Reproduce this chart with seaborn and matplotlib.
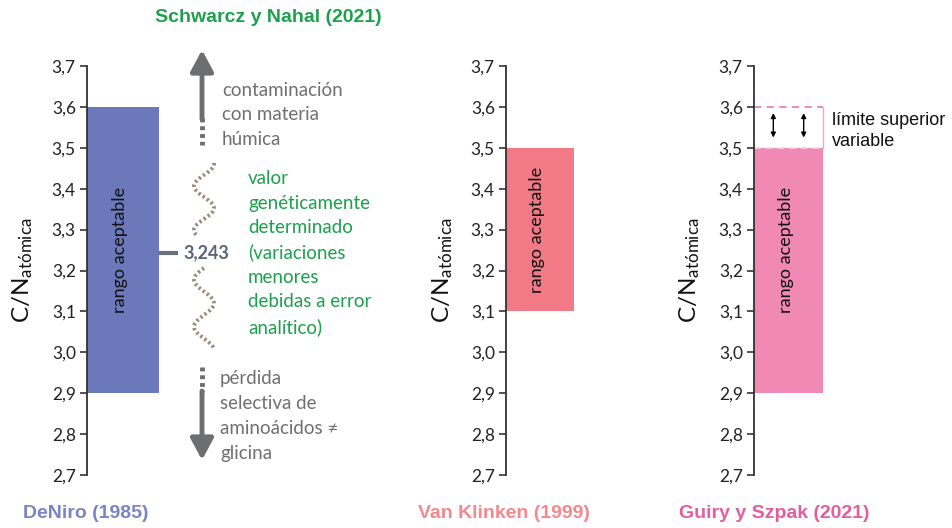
import numpy as np
import matplotlib
matplotlib.use("Agg")
import matplotlib.pyplot as plt
import seaborn as sns

# ---------------- data ----------------
refs = ["DeNiro (1985)", "Van Klinken (1999)", "Guiry y Szpak (2021)"]
lower = [2.9, 3.1, 2.9]
upper = [3.6, 3.5, 3.5]
upper_variable = 3.6          # Guiry & Szpak variable upper limit
genetic_value = 3.243         # Schwarcz & Nahal
yticks = [2.7, 2.8, 2.9, 3.0, 3.1, 3.2, 3.3, 3.4, 3.5, 3.6, 3.7]
ytick_labels = ["2,7", "2,8", "2,9", "3,0", "3,1", "3,2", "3,3", "3,4", "3,5", "3,6", "3,7"]
bar_label = "rango aceptable"
genetic_label = "3,243"

bar_colors = ["#6b78ba", "#f27a86", "#f08ab5"]
title_colors = ["#7b84c6", "#f4888d", "#e35d9f"]
green = "#1ba14b"
gray_txt = "#6f6f6f"
arrow_gray = "#6d6e70"

sns.set_style("white")
plt.rcParams["font.family"] = ["Lato", "DejaVu Sans"]
plt.rcParams["mathtext.fontset"] = "custom"
plt.rcParams["mathtext.rm"] = "Lato"
plt.rcParams["mathtext.it"] = "Lato:italic"
plt.rcParams["mathtext.bf"] = "Lato:bold"

W, H = 952, 528
fig = plt.figure(figsize=(W / 100, H / 100), dpi=100)
fig.patch.set_facecolor("white")

y_top_px, y_bot_px = 66, 475
panels_px = [(87, 159), (506, 574), (754, 823)]
label_x = [-0.72, -0.75, -0.75]
text_y = [3.25, 3.3, 3.25]

axes = []
for i, (x0, x1) in enumerate(panels_px):
    ax = fig.add_axes([x0 / W, (H - y_bot_px) / H, (x1 - x0) / W, (y_bot_px - y_top_px) / H])
    ax.patch.set_alpha(0)
    sns.barplot(x=[refs[i]], y=[upper[i] - lower[i]], bottom=lower[i], width=1.0,
                color=bar_colors[i], saturation=1, linewidth=0, ax=ax)
    ax.set_xlim(-0.5, 0.5)
    ax.set_ylim(2.7, 3.7)
    ax.set_xticks([])
    ax.set_xlabel("")
    ax.set_yticks(yticks)
    ax.set_yticklabels(ytick_labels, fontsize=12.5, color="#222222")
    ax.tick_params(axis="y", direction="out", length=5, width=1.2, color="#333333", pad=3, left=True)
    for s in ["top", "right", "bottom"]:
        ax.spines[s].set_visible(False)
    ax.spines["left"].set_color("#333333")
    ax.spines["left"].set_linewidth(1.3)
    ax.set_ylabel(r"C/N$_{\mathrm{atómica}}$", fontsize=17.5, color="#111111")
    ax.yaxis.set_label_coords(label_x[i], 0.5)
    ax.text(-0.04, text_y[i], bar_label, rotation=90, ha="center", va="center",
            fontsize=13, color="#111111")
    axes.append(ax)

# Guiry & Szpak variable upper limit
ax3 = axes[2]
ax3.plot([-0.5, 0.5], [upper_variable, upper_variable], color="#ee7fb0", lw=1.3,
         ls=(0, (4, 3)), clip_on=False)
ax3.plot([-0.5, 0.5], [upper[2], upper[2]], color="#fbd3e4", lw=1.2,
         ls=(0, (4, 3)), clip_on=False)
ax3.plot([0.5, 0.5], [upper[2], upper_variable], color="#f3a6c8", lw=1.0, clip_on=False)
for xa in [-0.22, 0.22]:
    ax3.annotate("", xy=(xa, upper_variable - 0.015), xytext=(xa, upper[2] + 0.025),
                 arrowprops=dict(arrowstyle="<|-|>", color="black", lw=1.0,
                                 mutation_scale=7, shrinkA=0, shrinkB=0))

# Genetic value marker on DeNiro panel
ax1 = axes[0]
ax1.plot([0.5, 0.77], [genetic_value, genetic_value], color="#6b6f78", lw=3, clip_on=False,
         solid_capstyle="butt")
ax1.text(0.84, genetic_value, genetic_label, ha="left", va="center", fontsize=13,
         fontweight="bold", color="#5b6477", clip_on=False)

# ---------------- overlay (annotations in pixel coords) ----------------
ov = fig.add_axes([0, 0, 1, 1], zorder=-1)
ov.set_xlim(0, W)
ov.set_ylim(H, 0)
ov.axis("off")

bold_font = ["Liberation Sans", "DejaVu Sans"]
ov.text(268, 18, "Schwarcz y Nahal (2021)", ha="center", va="center", fontsize=14,
        fontweight="bold", color=green, family=bold_font)
for i, cx in enumerate([86, 504, 774]):
    ov.text(cx, 513, refs[i], ha="center", va="center", fontsize=14, fontweight="bold",
            color=title_colors[i], family=bold_font)

ov.text(832, 131, "límite superior\nvariable", ha="left", va="center",
        fontsize=13, family=bold_font, linespacing=1.25, color="#111111")

# up arrow
ax_x = 202
ov.plot([ax_x, ax_x], [118, 145], color=arrow_gray, lw=3.5, ls=(0, (0.8, 0.8)))
ov.annotate("", xy=(ax_x, 50), xytext=(ax_x, 119),
            arrowprops=dict(arrowstyle="-|>,head_width=0.7,head_length=1.3",
                            color=arrow_gray, lw=3.5, shrinkA=0, shrinkB=0))
# down arrow
ov.plot([ax_x, ax_x], [367, 392], color=arrow_gray, lw=3.5, ls=(0, (0.8, 0.8)))
ov.annotate("", xy=(ax_x, 460), xytext=(ax_x, 391),
            arrowprops=dict(arrowstyle="-|>,head_width=0.7,head_length=1.3",
                            color=arrow_gray, lw=3.5, shrinkA=0, shrinkB=0))

# decorative wavy lines
yy = np.linspace(163, 236, 200)
ov.plot(204 - 10 * np.sin(2 * np.pi * (yy - 175) / 44), yy, color="#8a7766", lw=2.8,
        ls=(0, (0.6, 0.7)), alpha=0.85)
yy = np.linspace(268, 350, 200)
ov.plot(204 - 10 * np.sin(2 * np.pi * (yy - 268) / 47), yy, color="#8a7766", lw=2.8,
        ls=(0, (0.6, 0.7)), alpha=0.85)

ov.text(222, 115, "contaminación\ncon materia\nhúmica", ha="left", va="center", fontsize=13.5,
        color=gray_txt, linespacing=1.57)
ov.text(248, 253, "valor\ngenéticamente\ndeterminado\n(variaciones\nmenores\ndebidas a error\nanalítico)",
        ha="left", va="center", fontsize=13.5, color=green, linespacing=1.52)
ov.text(220, 416, "pérdida\nselectiva de\naminoácidos ≠\nglicina", ha="left", va="center",
        fontsize=13.5, color=gray_txt, linespacing=1.57)

fig.savefig("out.png", dpi=100, facecolor="white")
